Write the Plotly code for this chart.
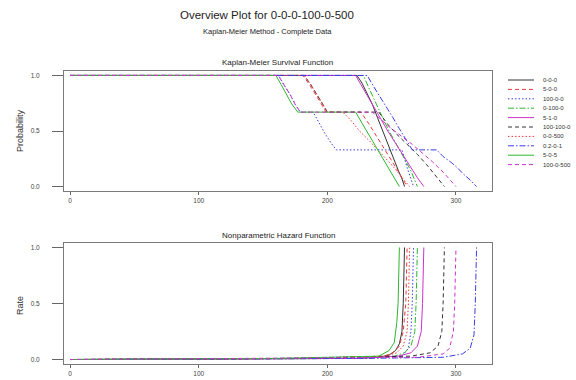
import plotly.graph_objects as go

W, H = 576, 380

names = ["0-0-0", "5-0-0", "100-0-0", "0-100-0", "5-1-0",
         "100-100-0", "0-0-500", "0.2-0-1", "5-0-5", "100-0-500"]
colors = ["#333333", "#e8383c", "#3c3ce8", "#2fb52f", "#cc33cc",
          "#333333", "#e8383c", "#3c3ce8", "#2fb52f", "#cc33cc"]
dashes = ["solid", "4px,3px", "1.5px,2px", "6px,2px,1.5px,2px", "solid",
          "4px,3px", "1.5px,2px", "6px,2px,1.5px,2px", "solid", "4px,3px"]

# ---- Kaplan-Meier survival (time, probability) ----
t_000 = [0, 223, 227, 231, 235, 239, 243, 247, 251, 255, 258, 260]
p_000 = [1, 1, 0.93, 0.84, 0.74, 0.62, 0.5, 0.38, 0.27, 0.15, 0.07, 0]
t_500 = [0, 181, 186, 191, 195, 199, 226, 232, 238, 244, 250, 256, 262]
p_500 = [1, 1, 0.92, 0.83, 0.75, 0.67, 0.67, 0.57, 0.46, 0.35, 0.23, 0.12, 0]
t_10000 = [0, 162, 166, 171, 175, 179, 189, 193, 198, 203, 207, 258, 262, 267]
p_10000 = [1, 1, 0.92, 0.83, 0.74, 0.67, 0.67, 0.58, 0.48, 0.39, 0.33, 0.33, 0.17, 0]
t_01000 = [0, 228, 233, 238, 243, 248, 254, 260, 265, 270]
p_01000 = [1, 1, 0.87, 0.74, 0.62, 0.5, 0.38, 0.25, 0.14, 0]
t_510 = [0, 222, 226, 231, 236, 241, 247, 253, 259, 265, 270, 275]
p_510 = [1, 1, 0.92, 0.82, 0.72, 0.61, 0.5, 0.39, 0.28, 0.17, 0.08, 0]
t_1001000 = [0, 182, 187, 192, 196, 200, 240, 247, 254, 262, 270, 277, 284, 291]
p_1001000 = [1, 1, 0.92, 0.83, 0.75, 0.67, 0.67, 0.56, 0.47, 0.38, 0.29, 0.2, 0.1, 0]
t_00500 = [0, 182, 187, 192, 196, 200, 212, 218, 225, 232, 239, 246, 252, 258, 264]
p_00500 = [1, 1, 0.92, 0.83, 0.75, 0.67, 0.67, 0.6, 0.5, 0.42, 0.33, 0.25, 0.17, 0.08, 0]
t_0201 = [0, 231, 236, 241, 246, 251, 256, 261, 266, 285, 290, 296, 301, 306, 311, 316]
p_0201 = [1, 1, 0.9, 0.81, 0.72, 0.62, 0.52, 0.43, 0.33, 0.33, 0.27, 0.22, 0.17, 0.11, 0.06, 0]
t_505 = [0, 160, 164, 168, 172, 177, 222, 227, 232, 237, 242, 247, 252, 256]
p_505 = [1, 1, 0.92, 0.83, 0.75, 0.67, 0.67, 0.57, 0.47, 0.37, 0.27, 0.17, 0.08, 0]
t_1000500 = [0, 162, 166, 171, 175, 179, 235, 242, 250, 258, 266, 274, 282, 290, 300]
p_1000500 = [1, 1, 0.92, 0.83, 0.74, 0.67, 0.67, 0.6, 0.52, 0.45, 0.38, 0.3, 0.22, 0.13, 0]

# ---- Nonparametric hazard (time, rate) ----
ht_000 = [0, 223, 240, 248, 253, 256, 258, 259, 260]
h_000 = [0, 0.01, 0.02, 0.04, 0.08, 0.14, 0.25, 0.5, 1.0]
ht_500 = [0, 181, 244, 251, 256, 259, 261, 262]
h_500 = [0, 0.01, 0.03, 0.06, 0.12, 0.25, 0.5, 1.0]
ht_10000 = [0, 162, 207, 258, 263, 265, 266, 267]
h_10000 = [0, 0.01, 0.02, 0.03, 0.1, 0.25, 0.5, 1.0]
ht_01000 = [0, 228, 252, 260, 265, 268, 269, 270]
h_01000 = [0, 0.01, 0.03, 0.06, 0.12, 0.25, 0.5, 1.0]
ht_510 = [0, 222, 255, 265, 270, 273, 274, 275]
h_510 = [0, 0.01, 0.03, 0.06, 0.12, 0.25, 0.5, 1.0]
ht_1001000 = [0, 182, 265, 280, 286, 289, 290, 291]
h_1001000 = [0, 0.01, 0.03, 0.06, 0.12, 0.25, 0.5, 1.0]
ht_00500 = [0, 182, 245, 254, 259, 262, 263, 264]
h_00500 = [0, 0.01, 0.03, 0.06, 0.12, 0.25, 0.5, 1.0]
ht_0201 = [0, 231, 290, 305, 311, 314, 315, 316]
h_0201 = [0, 0.01, 0.02, 0.05, 0.1, 0.22, 0.5, 1.0]
ht_505 = [0, 160, 240, 248, 252, 254, 255, 256]
h_505 = [0, 0.01, 0.03, 0.08, 0.15, 0.33, 0.5, 1.0]
ht_1000500 = [0, 162, 270, 290, 295, 298, 299, 300]
h_1000500 = [0, 0.01, 0.02, 0.05, 0.1, 0.25, 0.5, 1.0]

surv = [(t_000, p_000), (t_500, p_500), (t_10000, p_10000), (t_01000, p_01000),
        (t_510, p_510), (t_1001000, p_1001000), (t_00500, p_00500),
        (t_0201, p_0201), (t_505, p_505), (t_1000500, p_1000500)]
haz = [(ht_000, h_000), (ht_500, h_500), (ht_10000, h_10000), (ht_01000, h_01000),
       (ht_510, h_510), (ht_1001000, h_1001000), (ht_00500, h_00500),
       (ht_0201, h_0201), (ht_505, h_505), (ht_1000500, h_1000500)]

x_ticks = [0, 100, 200, 300]
y_ticks = [0, 0.5, 1]
y_ticktext = ["0.0", "0.5", "1.0"]

FONT = "Liberation Sans, Arial, sans-serif"

fig = go.Figure()
for i in range(len(names)):
    ln = dict(color=colors[i], width=1, dash=dashes[i])
    fig.add_trace(go.Scatter(x=surv[i][0], y=surv[i][1], mode="lines", line=ln,
                             name=names[i], showlegend=False, xaxis="x", yaxis="y"))
    fig.add_trace(go.Scatter(x=haz[i][0], y=haz[i][1], mode="lines", line=ln,
                             name=names[i], showlegend=False, xaxis="x2", yaxis="y2"))

def px_x(v):
    return v / W

def px_y(v):
    return 1 - v / H

xdom = [px_x(64), px_x(492)]
axx = dict(range=[-4.7, 328], tickvals=x_ticks, ticks="outside", ticklen=3,
           tickcolor="#666", tickfont=dict(size=6.5, color="#444", family=FONT),
           showline=True, mirror=True, linecolor="#7a7a7a", linewidth=1,
           showgrid=False, zeroline=False, domain=xdom)
axy = dict(range=[-0.04, 1.04], tickvals=y_ticks, ticktext=y_ticktext,
           ticks="outside", ticklen=11, tickcolor="#666", ticklabelstandoff=11,
           tickfont=dict(size=6.5, color="#444", family=FONT),
           showline=True, mirror=True, linecolor="#7a7a7a", linewidth=1,
           showgrid=False, zeroline=False)

fig.update_layout(
    width=W, height=H, margin=dict(l=0, r=0, t=0, b=0),
    paper_bgcolor="white", plot_bgcolor="white",
    font=dict(family=FONT, color="#222"),
    xaxis=dict(axx, anchor="y"),
    yaxis=dict(axy, domain=[px_y(191), px_y(71)], anchor="x"),
    xaxis2=dict(axx, anchor="y2"),
    yaxis2=dict(axy, domain=[px_y(364), px_y(243)], anchor="x2"),
    showlegend=False,
)

ann = [
    dict(text="Overview Plot for 0-0-0-100-0-500", x=px_x(267), y=px_y(15.5), size=11.5),
    dict(text="Kaplan-Meier Method - Complete Data", x=px_x(267), y=px_y(31), size=7.5),
    dict(text="Kaplan-Meier Survival Function", x=px_x(277), y=px_y(63), size=8),
    dict(text="Nonparametric Hazard Function", x=px_x(278), y=px_y(235), size=8),
]
for a in ann:
    fig.add_annotation(text=a["text"], x=a["x"], y=a["y"], xref="paper", yref="paper",
                       showarrow=False, xanchor="center", yanchor="middle",
                       font=dict(size=a["size"], family=FONT, color="#222"))
for label, yc in [("Probability", 131), ("Rate", 306)]:
    fig.add_annotation(text=label, x=px_x(20), y=px_y(yc), xref="paper", yref="paper",
                       showarrow=False, textangle=-90, xanchor="center", yanchor="middle",
                       font=dict(size=9, family=FONT, color="#333"))

# manual legend
for i in range(len(names)):
    yy = px_y(80 + i * 9.4)
    fig.add_shape(type="line", xref="paper", yref="paper", x0=px_x(508), x1=px_x(534),
                  y0=yy, y1=yy, line=dict(color=colors[i], width=1, dash=dashes[i]))
    fig.add_annotation(text=names[i], x=px_x(541), y=yy, xref="paper", yref="paper",
                       showarrow=False, xanchor="left", yanchor="middle",
                       font=dict(size=6, family=FONT, color="#333"))

fig.write_html("out.html")
